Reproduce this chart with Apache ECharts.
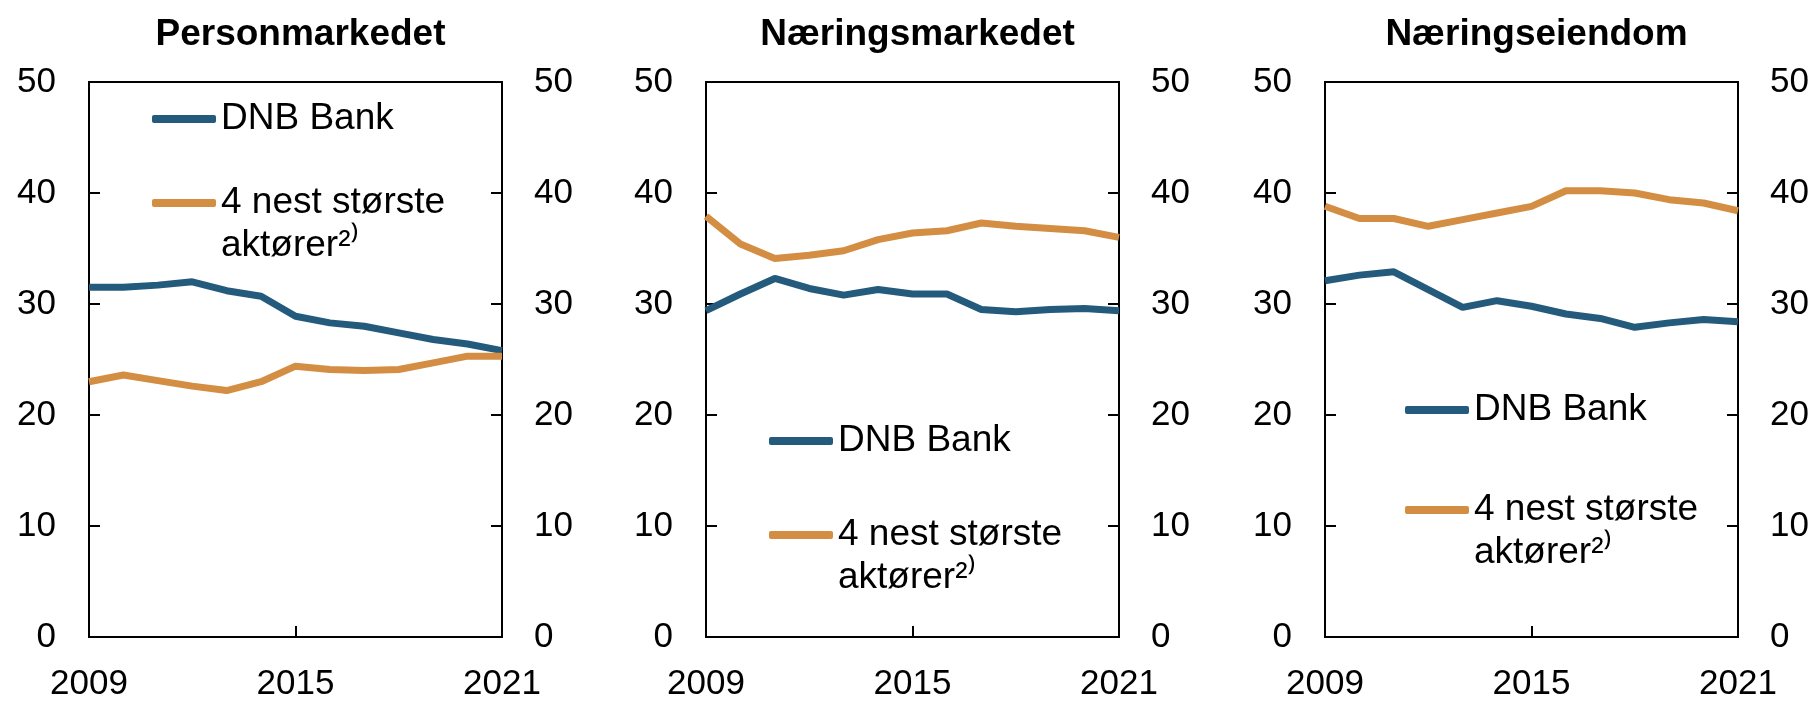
<!DOCTYPE html>
<html>
<head>
<meta charset="utf-8">
<script src="https://cdn.jsdelivr.net/npm/echarts@6/dist/echarts.min.js"></script>
<style>
html, body { margin: 0; padding: 0; background: #fff; }
#main { width: 1816px; height: 702px; }
</style>
</head>
<body>
<div id="main"></div>
<script>
var years = ['2009', '2010', '2011', '2012', '2013', '2014', '2015', '2016', '2017', '2018', '2019', '2020', '2021'];
var panelTitles = ['Personmarkedet', 'Næringsmarkedet', 'Næringseiendom'];
var dnbName = 'DNB Bank';
var otherName = '4 nest største aktører²⁾';

// markedsandeler, prosent
var personDnb   = [31.5, 31.5, 31.7, 32.0, 31.2, 30.7, 28.9, 28.3, 28.0, 27.4, 26.8, 26.4, 25.8];
var personOther = [23.0, 23.6, 23.1, 22.6, 22.2, 23.0, 24.4, 24.1, 24.0, 24.1, 24.7, 25.3, 25.3];
var naeringDnb   = [29.4, 30.9, 32.3, 31.4, 30.8, 31.3, 30.9, 30.9, 29.5, 29.3, 29.5, 29.6, 29.4];
var naeringOther = [37.9, 35.4, 34.1, 34.4, 34.8, 35.8, 36.4, 36.6, 37.3, 37.0, 36.8, 36.6, 36.0];
var eiendomDnb   = [32.1, 32.6, 32.9, 31.3, 29.7, 30.3, 29.8, 29.1, 28.7, 27.9, 28.3, 28.6, 28.4];
var eiendomOther = [38.8, 37.7, 37.7, 37.0, 37.6, 38.2, 38.8, 40.2, 40.2, 40.0, 39.4, 39.1, 38.4];

var blue = '#245b7c';
var orange = '#d38e43';
var font = "'Liberation Sans', Arial, sans-serif";

var panels = [
    {left: 89,   right: 1314, legX: 152,  dnbY: 119, otherY: 203, dnb: personDnb,  other: personOther},
    {left: 706,  right: 697,  legX: 769,  dnbY: 441, otherY: 535, dnb: naeringDnb, other: naeringOther},
    {left: 1325, right: 78,   legX: 1405, dnbY: 410, otherY: 510, dnb: eiendomDnb, other: eiendomOther}
];

var option = {
    animation: false,
    textStyle: {fontFamily: font},
    title: [], grid: [], xAxis: [], yAxis: [], series: [], legend: []
};

function yAxisFor(i, pos, margin) {
    return {
        type: 'value', gridIndex: i, position: pos,
        min: 0, max: 50, interval: 10,
        axisLine: {show: true, lineStyle: {color: '#000', width: 2}},
        axisTick: {show: true, inside: true, length: 11, lineStyle: {color: '#000', width: 2}},
        axisLabel: {fontSize: 35, color: '#000', fontFamily: font, margin: margin},
        splitLine: {show: false}
    };
}

function legendFor(name, x, top) {
    return {
        data: [name], left: x, top: top, padding: 0,
        icon: 'roundRect', itemWidth: 64, itemHeight: 8, itemGap: 6,
        selectedMode: false,
        formatter: function (n) {
            // første linje midt på linjesymbolet
            return n === otherName ? ' \n4 nest største\naktører²⁾' : n;
        },
        textStyle: {fontSize: 37, color: '#000', fontFamily: font, lineHeight: 43}
    };
}

panels.forEach(function (p, i) {
    var plotWidth = 1816 - p.left - p.right;
    option.title.push({
        text: panelTitles[i],
        left: p.left + plotWidth / 2,
        top: 11,
        textAlign: 'center',
        textStyle: {fontSize: 37, fontWeight: 'bold', color: '#000', fontFamily: font}
    });
    option.grid.push({
        left: p.left, right: p.right, top: 82, bottom: 60,
        show: true, borderColor: '#000', borderWidth: 2
    });
    option.xAxis.push({
        type: 'category', gridIndex: i, data: years, boundaryGap: false,
        axisLine: {lineStyle: {color: '#000', width: 2}},
        axisTick: {show: true, inside: true, length: 11, interval: function (idx) { return idx % 6 === 0; },
                   lineStyle: {color: '#000', width: 2}},
        axisLabel: {fontSize: 35, color: '#000', fontFamily: font, margin: 30,
                    interval: function (idx) { return idx % 6 === 0; }}
    });
    option.yAxis.push(yAxisFor(i, 'left', 33));
    option.yAxis.push(yAxisFor(i, 'right', 32));
    option.series.push({
        name: dnbName, type: 'line', xAxisIndex: i, yAxisIndex: i * 2,
        data: p.dnb, symbol: 'none', showSymbol: false, color: blue,
        lineStyle: {color: blue, width: 7}
    });
    option.series.push({
        name: otherName, type: 'line', xAxisIndex: i, yAxisIndex: i * 2,
        data: p.other, symbol: 'none', showSymbol: false, color: orange,
        lineStyle: {color: orange, width: 7}
    });
    option.legend.push(legendFor(dnbName, p.legX, p.dnbY - 21.5));
    option.legend.push(legendFor(otherName, p.legX, p.otherY - 64.5));
});

var chart = echarts.init(document.getElementById('main'));
chart.setOption(option);
</script>
</body>
</html>
